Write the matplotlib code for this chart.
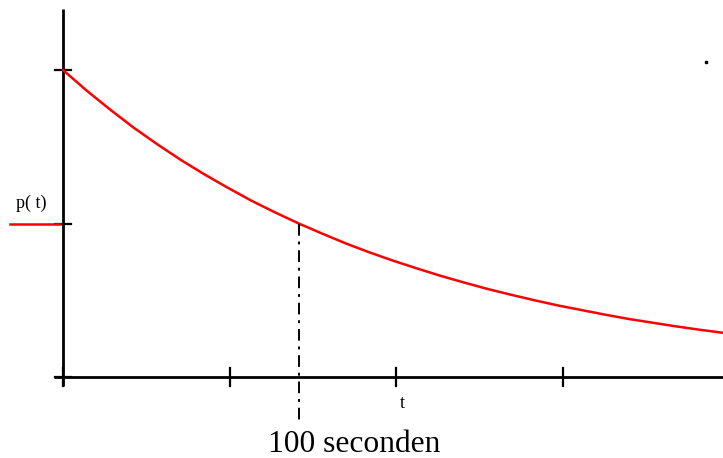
import matplotlib
matplotlib.use("Agg")
import matplotlib.pyplot as plt

# waarden (t in seconden, p relatief)
t_vals = [0, 10, 20, 30, 40, 50, 60, 70, 80, 90, 100, 110, 120, 130, 140,
          150, 160, 170, 180, 190, 200, 210, 220, 230, 240, 250, 260, 270, 280]
p_vals = [1.0, 0.933, 0.871, 0.812, 0.758, 0.707, 0.660, 0.616, 0.574, 0.536,
          0.5, 0.467, 0.435, 0.406, 0.379, 0.354, 0.330, 0.308, 0.287, 0.268,
          0.25, 0.233, 0.218, 0.203, 0.189, 0.177, 0.165, 0.154, 0.144]
x_ticks = [0, 70.7, 141.4, 212.1]
y_ticks = [0, 0.5, 1.0]
t_half = 100
p_half = 0.5

W, H = 723, 458
fig = plt.figure(figsize=(W / 100, H / 100), dpi=100)
ax = fig.add_axes([0, 0, 1, 1])

# pixel -> data omrekening: t=0 bij x=63, 2.357 px per seconde; p=0 bij y=377, 307 px per eenheid
px_t = 2.357
px_p = 307.0
x0, y0 = 63, 377
ax.set_xlim(-x0 / px_t, (W - x0) / px_t)
ax.set_ylim((y0 - H) / px_p, y0 / px_p)
ax.axis("off")

def dx(px):
    return px / px_t

def dy(px):
    return px / px_p

# assen
ax.plot([dx(-9), dx(W - x0)], [0, 0], color="black", lw=2, solid_capstyle="butt")
ax.plot([0, 0], [dy(-9), dy(y0 - 9)], color="black", lw=2, solid_capstyle="butt")
for xt in x_ticks:
    ax.plot([xt, xt], [dy(-9), dy(9)], color="black", lw=1.6)
for yt in y_ticks:
    ax.plot([dx(-8), dx(8)], [yt, yt], color="black", lw=1.6)

# curve
ax.plot(t_vals, p_vals, color="red", lw=1.8)

# legendalijn en label
ax.plot([dx(10 - x0), dx(60 - x0)], [p_half, p_half], color="red", lw=1.8)
ax.text(dx(31 - x0), dy(y0 - 203), "p( t)", family="Liberation Serif",
        fontsize=13, ha="center", va="center")
ax.text(dx(402 - x0), dy(y0 - 404), "t", family="Liberation Serif",
        fontsize=13, ha="center", va="center")

# halfwaardetijd
ax.plot([t_half, t_half], [p_half, dy(y0 - 425)], color="black", lw=1.4,
        linestyle=(0, (6, 3, 1.5, 3)))
ax.text(dx(354 - x0), dy(y0 - 452), "100 seconden", family="Liberation Serif",
        fontsize=22.7, ha="center", va="baseline")

# puntje rechtsboven
ax.plot([dx(706 - x0)], [dy(y0 - 62)], marker="s", ms=2, color="black")

fig.savefig("out.png", dpi=100)
